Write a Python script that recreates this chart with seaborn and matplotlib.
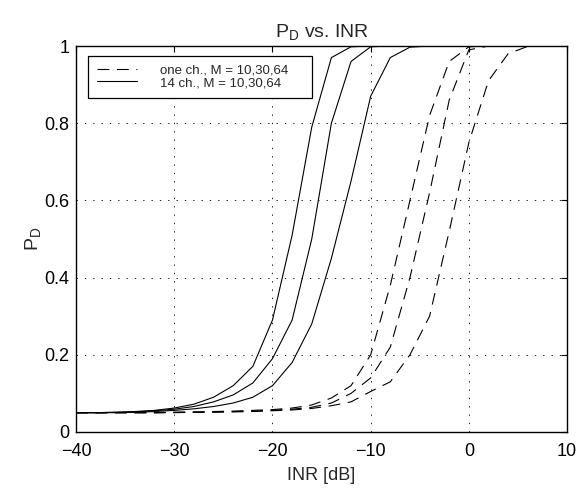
import numpy as np
import pandas as pd
import seaborn as sns
import matplotlib
matplotlib.use("Agg")
import matplotlib.pyplot as plt
from matplotlib.lines import Line2D

inr = list(range(-40, 12, 2))

# 14 channels, M = 10, 30, 64
multi_m10 = [.050, .050, .051, .053, .056, .062, .072, .090, .120, .170, .290, .510, .790,
             .970, .998, 1, 1, 1, 1, 1, 1, 1, 1, 1, 1, 1]
multi_m30 = [.050, .050, .051, .052, .055, .059, .066, .078, .096, .127, .190, .290, .500,
             .800, .960, .998, 1, 1, 1, 1, 1, 1, 1, 1, 1, 1]
multi_m64 = [.050, .050, .050, .051, .053, .056, .060, .066, .075, .090, .120, .180, .280,
             .450, .650, .870, .970, .997, 1, 1, 1, 1, 1, 1, 1, 1]
# one channel, M = 10, 30, 64
one_m10 = [.050, .050, .050, .050, .050, .051, .052, .053, .054, .056, .058, .062, .070,
           .088, .120, .200, .380, .600, .820, .960, .998, 1, 1, 1, 1, 1]
one_m30 = [.050, .050, .050, .050, .050, .051, .051, .052, .053, .054, .056, .059, .064,
           .075, .100, .140, .220, .400, .620, .860, .990, 1, 1, 1, 1, 1]
one_m64 = [.050, .050, .050, .050, .050, .050, .051, .051, .052, .053, .055, .057, .061,
           .068, .078, .105, .130, .200, .300, .520, .750, .910, .980, .999, 1, 1]

series = {
    ("one", 10): one_m10, ("one", 30): one_m30, ("one", 64): one_m64,
    ("14", 10): multi_m10, ("14", 30): multi_m30, ("14", 64): multi_m64,
}
rows = []
for (ch, m), vals in series.items():
    for x, y in zip(inr, vals):
        rows.append({"INR": x, "PD": y, "ch": ch, "M": m})
df = pd.DataFrame(rows)

sns.set_style("white")
plt.rcParams['font.family'] = ['Liberation Sans', 'DejaVu Sans']
plt.rcParams['mathtext.fontset'] = 'custom'
plt.rcParams['mathtext.rm'] = 'Liberation Sans'
plt.rcParams['lines.scale_dashes'] = False

fig = plt.figure(figsize=(5.81, 4.92), dpi=100)
ax = fig.add_axes([0.131, 0.122, 0.845, 0.7845])

dash = (8.5, 5.5)
sns.lineplot(data=df[df.ch == "one"], x="INR", y="PD", units="M", estimator=None,
             color="k", lw=0.8, ax=ax, legend=False)
for l in ax.lines:
    l.set_dashes(dash)
sns.lineplot(data=df[df.ch == "14"], x="INR", y="PD", units="M", estimator=None,
             color="k", lw=0.8, ax=ax, legend=False)

ax.set_xlim(-40, 10)
ax.set_ylim(0, 1)
ax.set_xticks([-40, -30, -20, -10, 0, 10])
ax.set_xticklabels(["\u221240", "\u221230", "\u221220", "\u221210", "0", "10"])
ax.set_yticks([0, 0.2, 0.4, 0.6, 0.8, 1])
ax.set_yticklabels(["0", "0.2", "0.4", "0.6", "0.8", "1"])
ax.tick_params(direction="in", top=True, right=True, length=4, width=0.8,
               labelsize=13, colors="k")
ax.tick_params(axis="x", pad=8)
ax.tick_params(axis="y", pad=5)
ax.grid(True, color="k", linestyle=(0, (1, 5)), lw=0.6)
for s in ax.spines.values():
    s.set_color("k")
    s.set_linewidth(1.0)

ax.set_xlabel("INR [dB]", fontsize=13, labelpad=5)
ax.set_ylabel(r"P$_\mathrm{D}$", fontsize=14, labelpad=0)
ax.set_title(r"P$_\mathrm{D}$ vs. INR", fontsize=14, pad=6)

handles = [Line2D([], [], color="k", lw=0.8, dashes=dash),
           Line2D([], [], color="k", lw=0.8)]
leg = ax.legend(handles, ["one ch., M = 10,30,64    ", "14 ch., M = 10,30,64    "],
                loc="upper left", bbox_to_anchor=(0.025, 0.974), fontsize=9.5,
                frameon=True, fancybox=False, edgecolor="k", framealpha=1,
                handlelength=3.0, handletextpad=1.8, borderpad=0.65, labelspacing=0.0,
                borderaxespad=0)
leg.get_frame().set_linewidth(0.9)

fig.savefig("out.png", dpi=100)
